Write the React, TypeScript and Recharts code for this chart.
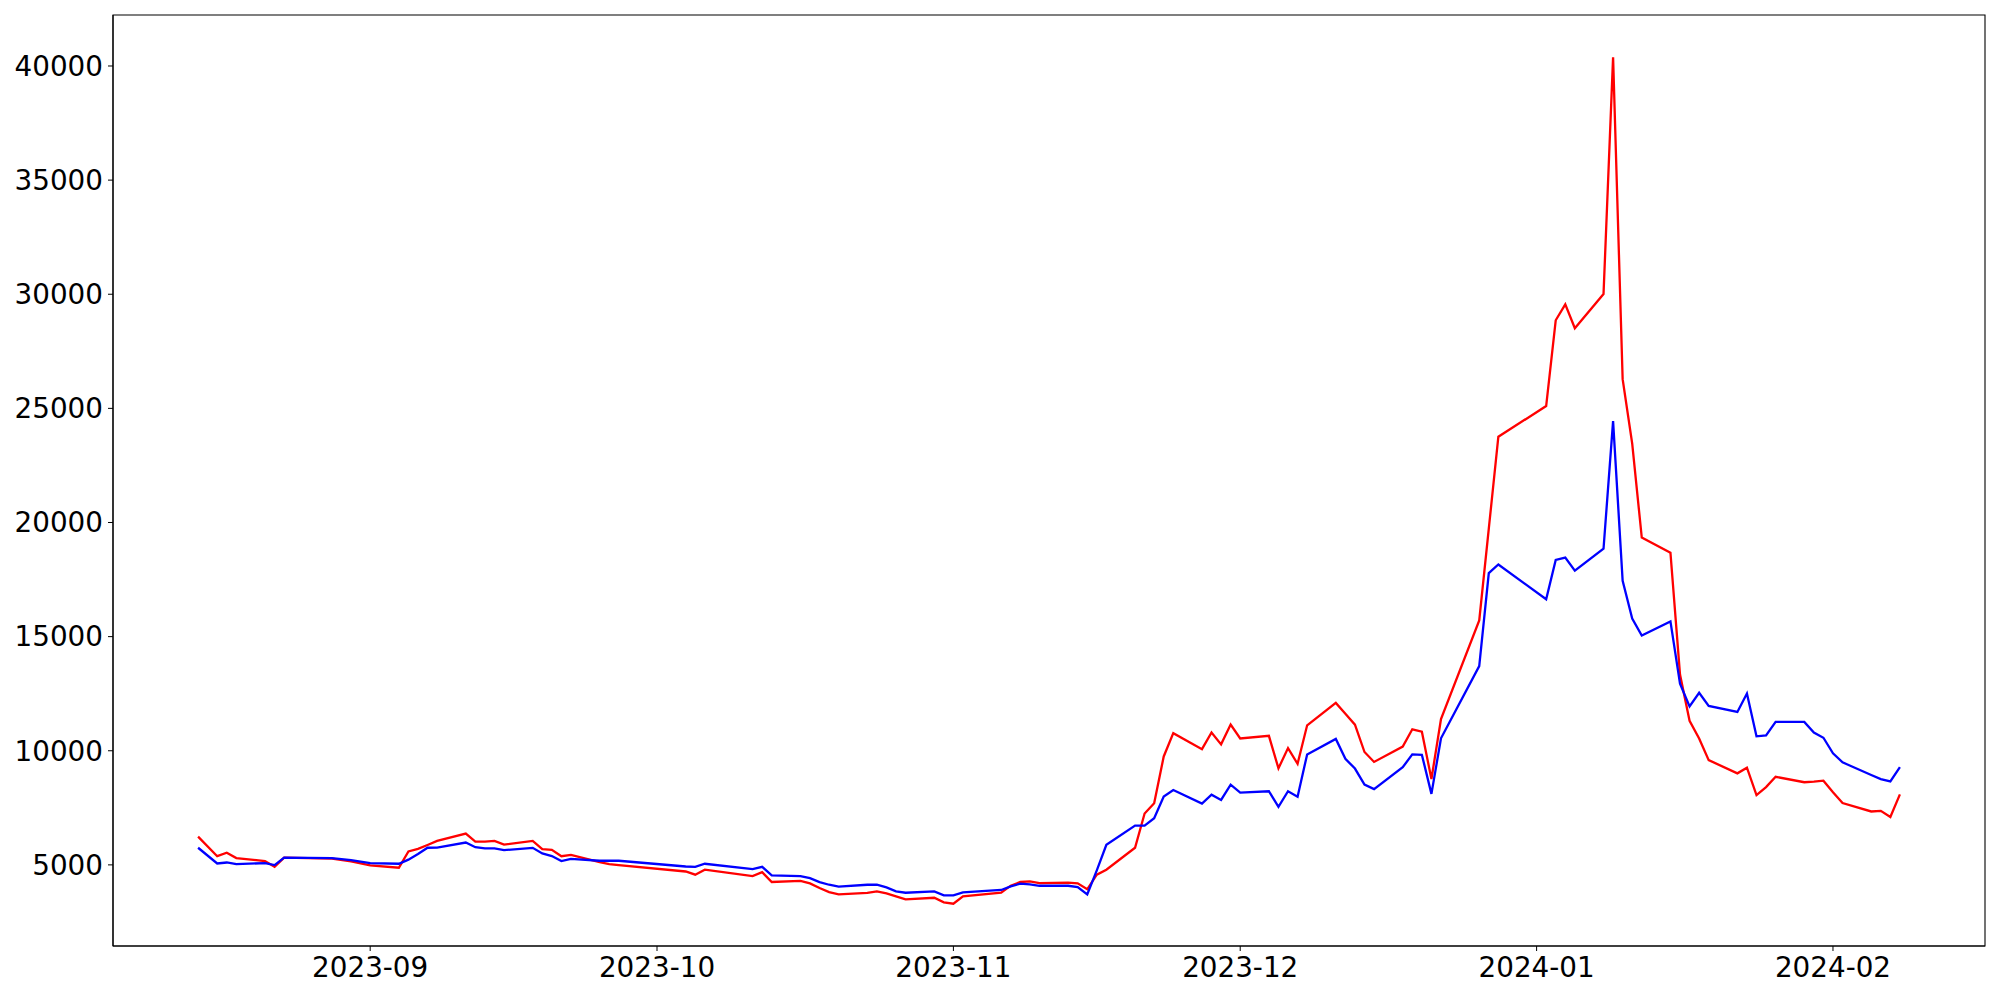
import { LineChart, Line, XAxis, YAxis, ReferenceArea } from 'recharts';

// trading days
const dates = [
  '2023-08-14', '2023-08-16', '2023-08-17', '2023-08-18', '2023-08-21', '2023-08-22', '2023-08-23',
  '2023-08-28', '2023-08-30', '2023-09-01', '2023-09-04', '2023-09-05', '2023-09-06', '2023-09-07',
  '2023-09-08', '2023-09-11', '2023-09-12', '2023-09-13', '2023-09-14', '2023-09-15', '2023-09-18',
  '2023-09-19', '2023-09-20', '2023-09-21', '2023-09-22', '2023-09-25', '2023-09-26', '2023-09-27',
  '2023-10-04', '2023-10-05', '2023-10-06', '2023-10-11', '2023-10-12', '2023-10-13', '2023-10-16',
  '2023-10-17', '2023-10-18', '2023-10-19', '2023-10-20', '2023-10-23', '2023-10-24', '2023-10-25',
  '2023-10-26', '2023-10-27', '2023-10-30', '2023-10-31', '2023-11-01', '2023-11-02', '2023-11-06',
  '2023-11-07', '2023-11-08', '2023-11-09', '2023-11-10', '2023-11-13', '2023-11-14', '2023-11-15',
  '2023-11-16', '2023-11-17', '2023-11-20', '2023-11-21', '2023-11-22', '2023-11-23', '2023-11-24',
  '2023-11-27', '2023-11-28', '2023-11-29', '2023-11-30', '2023-12-01', '2023-12-04', '2023-12-05',
  '2023-12-06', '2023-12-07', '2023-12-08', '2023-12-11', '2023-12-12', '2023-12-13', '2023-12-14',
  '2023-12-15', '2023-12-18', '2023-12-19', '2023-12-20', '2023-12-21', '2023-12-22', '2023-12-26',
  '2023-12-27', '2023-12-28', '2024-01-02', '2024-01-03', '2024-01-04', '2024-01-05', '2024-01-08',
  '2024-01-09', '2024-01-10', '2024-01-11', '2024-01-12', '2024-01-15', '2024-01-16', '2024-01-17',
  '2024-01-18', '2024-01-19', '2024-01-22', '2024-01-23', '2024-01-24', '2024-01-25', '2024-01-26',
  '2024-01-29', '2024-01-30', '2024-01-31', '2024-02-01', '2024-02-02', '2024-02-05', '2024-02-06',
  '2024-02-07', '2024-02-08',
];

const redValues = [
  6240, 5380, 5530, 5300, 5165, 4920, 5320,
  5270, 5150, 4975, 4875, 5590, 5700, 5870,
  6050, 6370, 6020, 6020, 6050, 5890, 6050,
  5690, 5660, 5380, 5440, 5120, 5030, 4990,
  4710, 4570, 4790, 4510, 4680, 4250, 4300,
  4190, 3985, 3810, 3710, 3770, 3840, 3750,
  3620, 3490, 3560, 3360, 3300, 3620, 3780,
  4090, 4250, 4275, 4200, 4220, 4190, 3930,
  4570, 4790, 5750, 7250, 7700, 9750, 10770,
  10070, 10800, 10280, 11150, 10540, 10655, 9230,
  10115, 9430, 11115, 12095, 11620, 11145, 9945,
  9510, 10185, 10940, 10835, 8760, 11390, 15710,
  19730, 23760, 25100, 28860, 29560, 28510, 30010,
  40380, 26280, 23460, 19340, 18680, 13340, 11310,
  10540, 9590, 9010, 9260, 8060, 8410, 8860,
  8620, 8650, 8690, 8180, 7710, 7340, 7365,
  7100, 8090,
];

const blueValues = [
  5750, 5060, 5105, 5035, 5075, 4990, 5320,
  5300, 5210, 5075, 5050, 5230, 5480, 5750,
  5760, 5980, 5775, 5720, 5720, 5645, 5745,
  5500, 5385, 5170, 5265, 5180, 5180, 5180,
  4930, 4915, 5050, 4815, 4915, 4540, 4510,
  4420, 4245, 4130, 4045, 4130, 4130, 4015,
  3840, 3780, 3840, 3665, 3665, 3795, 3900,
  4060, 4175, 4145, 4085, 4085, 4030, 3710,
  4760, 5880, 6720, 6720, 7045, 7990, 8280,
  7685, 8075, 7845, 8515, 8165, 8225, 7540,
  8225, 7990, 9840, 10520, 9645, 9220, 8515,
  8320, 9280, 9840, 9825, 8110, 10545, 13710,
  17780, 18160, 16640, 18360, 18460, 17890, 18850,
  24440, 17450, 15790, 15050, 15665, 12940, 11940,
  12540, 11965, 11700, 12505, 10630, 10670, 11265,
  11265, 10800, 10570, 9885, 9490, 8940, 8760,
  8660, 9285,
];

const monthTicks = ['2023-09-01', '2023-10-01', '2023-11-01', '2023-12-01', '2024-01-01', '2024-02-01'];
const yTicks = [5000, 10000, 15000, 20000, 25000, 30000, 35000, 40000];

const toTime = (s: string) => {
  const [y, m, d] = s.split('-').map(Number);
  return Date.UTC(y, m - 1, d);
};

const data = dates.map((d, i) => ({ t: toTime(d), red: redValues[i], blue: blueValues[i] }));

// matplotlib-like 5% margins on both axes
const tMin = data[0].t;
const tMax = data[data.length - 1].t;
const xPad = (tMax - tMin) * 0.05;
const xDomain = [tMin - xPad, tMax + xPad];

const allVals = [...redValues, ...blueValues];
const vMin = Math.min(...allVals);
const vMax = Math.max(...allVals);
const yPad = (vMax - vMin) * 0.05;
const yDomain = [vMin - yPad, vMax + yPad];

const fmtMonth = (t: number) => {
  const d = new Date(t);
  return `${d.getUTCFullYear()}-${String(d.getUTCMonth() + 1).padStart(2, '0')}`;
};

const tickStyle = { fontFamily: 'DejaVu Sans', fontSize: 27.8, fill: '#000' };
const axisLine = { stroke: '#000', strokeWidth: 1.1 };

export default function App() {
  return (
    <div style={{ position: 'absolute', left: 0, top: 0, width: 2000, height: 1000, background: '#fff' }}>
      <LineChart width={2000} height={1000} data={data} margin={{ top: 15, right: 15, bottom: 0, left: 0 }}>
        <XAxis
          dataKey="t"
          type="number"
          scale="linear"
          domain={xDomain}
          ticks={monthTicks.map(toTime)}
          tickFormatter={fmtMonth}
          height={54}
          tick={tickStyle}
          tickSize={5}
          tickMargin={6}
          axisLine={axisLine}
          tickLine={{ stroke: '#000' }}
          allowDataOverflow
        />
        <YAxis
          type="number"
          domain={yDomain}
          ticks={yTicks}
          width={113}
          tick={tickStyle}
          tickSize={5}
          tickMargin={5}
          axisLine={axisLine}
          tickLine={{ stroke: '#000' }}
          allowDataOverflow
        />
        {/* frame round the plot, like the matplotlib spines */}
        <ReferenceArea
          x1={xDomain[0]}
          x2={xDomain[1]}
          y1={yDomain[0]}
          y2={yDomain[1]}
          fill="none"
          fillOpacity={0}
          stroke="#000"
          strokeWidth={1.1}
          ifOverflow="visible"
        />
        <Line type="linear" dataKey="red" stroke="#ff0000" strokeWidth={2.3} dot={false} isAnimationActive={false} />
        <Line type="linear" dataKey="blue" stroke="#0000ff" strokeWidth={2.3} dot={false} isAnimationActive={false} />
      </LineChart>
    </div>
  );
}
